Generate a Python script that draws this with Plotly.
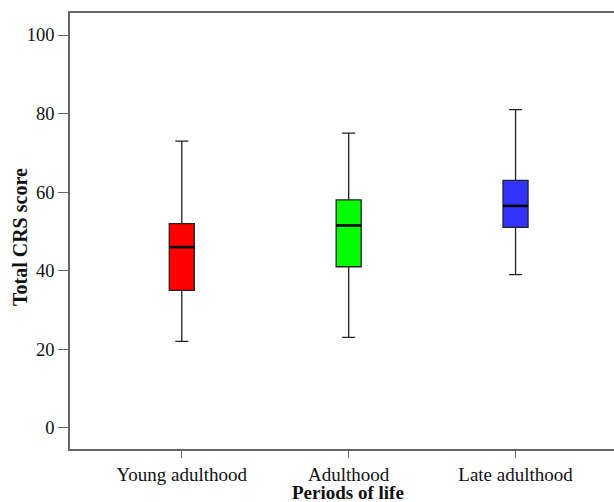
import plotly.graph_objects as go

categories = ["Young adulthood", "Adulthood", "Late adulthood"]
lower_whisker = [22, 23, 39]
q1 = [35, 41, 51]
median = [46, 51.5, 56.5]
q3 = [52, 58, 63]
upper_whisker = [73, 75, 81]
colors = ["#ff0000", "#00ff00", "#3333ff"]

y_ticks = [0, 20, 40, 60, 80, 100]

BOX_W = 0.15
font_family = "Liberation Serif, Times New Roman, serif"

fig = go.Figure()
xs = list(range(len(categories)))
for i, cat in enumerate(categories):
    fig.add_trace(go.Box(
        x=[xs[i]],
        q1=[q1[i]], median=[median[i]], q3=[q3[i]],
        lowerfence=[lower_whisker[i]], upperfence=[upper_whisker[i]],
        name=cat,
        fillcolor=colors[i],
        line=dict(color="#222222", width=1.3),
        width=BOX_W,
        whiskerwidth=0.52,
        boxpoints=False,
        showlegend=False,
        hoverinfo="skip",
    ))
    fig.add_trace(go.Scatter(
        x=[xs[i] - BOX_W / 2, xs[i] + BOX_W / 2],
        y=[median[i], median[i]],
        mode="lines",
        line=dict(color="#000000", width=2.6),
        showlegend=False,
        hoverinfo="skip",
    ))

fig.update_layout(
    width=614, height=502,
    margin=dict(l=70, r=0, t=13, b=53),
    plot_bgcolor="white",
    paper_bgcolor="white",
    font=dict(family=font_family, size=18, color="#111111"),
    annotations=[
        dict(text="<b>Periods of life</b>", xref="paper", yref="paper",
             x=0.5, y=0, xanchor="center", yanchor="bottom", yshift=-56, xshift=6,
             showarrow=False, font=dict(size=19)),
        dict(text="<b>Total CRS score</b>", xref="paper", yref="paper",
             x=0, y=0.5, xanchor="center", yanchor="middle", xshift=-50, yshift=-6,
             textangle=-90, showarrow=False, font=dict(size=20)),
    ],
)
fig.update_xaxes(
    range=[-0.67, 2.59],
    tickvals=xs, ticktext=categories,
    showline=True, linecolor="#666666", linewidth=1.6, mirror=True,
    ticks="outside", ticklen=7, tickcolor="#666666", tickwidth=1.3,
    showgrid=False, zeroline=False,
    tickfont=dict(size=19),
)
fig.update_yaxes(
    range=[-5.4, 105.6],
    tickvals=y_ticks,
    showline=True, linecolor="#666666", linewidth=1.6, mirror=False,
    ticks="outside", ticklen=10, tickcolor="#666666", tickwidth=1.3,
    showgrid=False, zeroline=False,
    tickfont=dict(size=18.5),
)

fig.write_html(
    "out.html",
    config={"displayModeBar": False},
    post_script="document.body.style.margin='0';document.body.style.overflow='hidden';",
)
